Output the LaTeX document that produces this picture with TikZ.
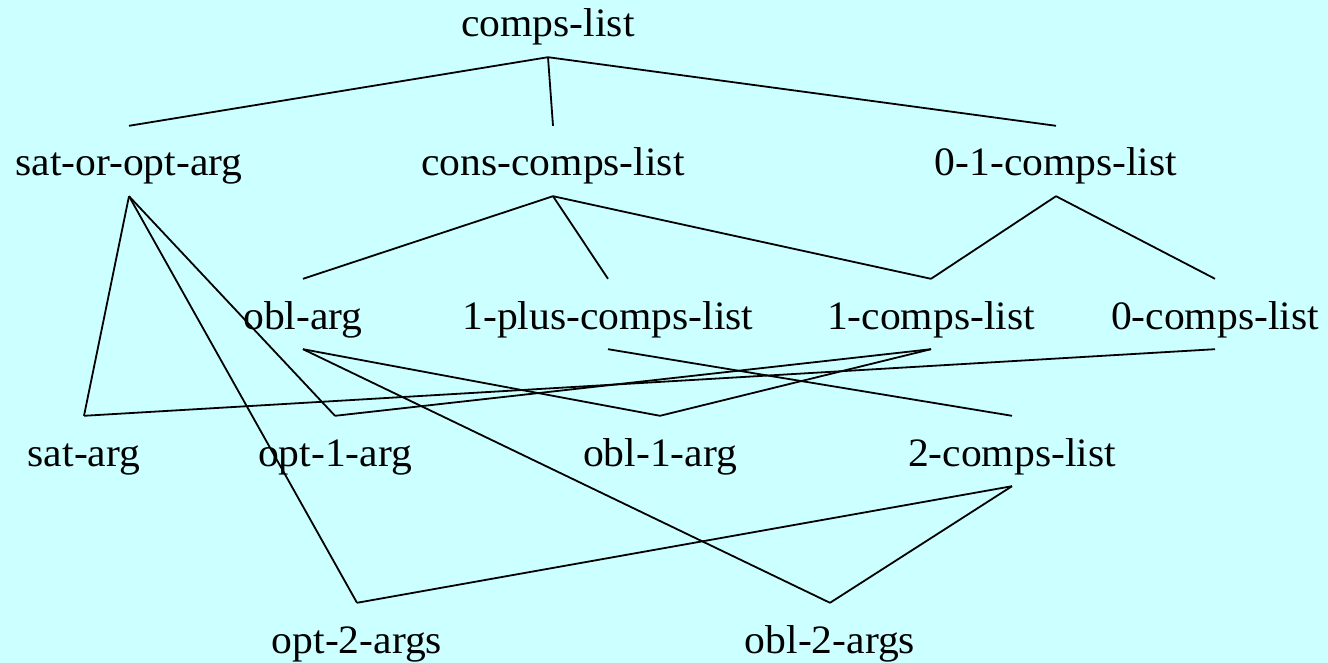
\documentclass[tikz,border=0pt]{standalone}
\usepackage{fontspec}
\setmainfont{Liberation Serif}
\definecolor{bgcyan}{RGB}{204,255,255}
\newcommand{\typelabel}[1]{\scalebox{0.99}[0.96]{#1}}
\begin{document}
\begin{tikzpicture}[x=1pt,y=-1pt,
  type/.style={anchor=base, inner xsep=0pt, inner ysep=0pt,
    text height=50pt, text depth=20pt,
    font=\fontsize{42}{50}\selectfont},
  link/.style={draw=black, line width=1.8pt}]
  % canvas
  \fill[bgcyan] (0,0) rectangle (1328,663);
  \useasboundingbox (0,0) rectangle (1328,663);

  % row 1
  \node[type] (cl)    at (548,37)  {\typelabel{comps-list}};
  % row 2
  \node[type] (soa)   at (129,176) {\typelabel{sat-or-opt-arg}};
  \node[type] (ccl)   at (553,176) {\typelabel{cons-comps-list}};
  \node[type] (zocl)  at (1056,176) {\typelabel{0-1-comps-list}};
  % row 3
  \node[type] (obl)   at (303,329) {\typelabel{obl-arg}};
  \node[type] (opcl)  at (608,329) {\typelabel{1-plus-comps-list}};
  \node[type] (ocl)   at (931,329) {\typelabel{1-comps-list}};
  \node[type] (zcl)   at (1215,329) {\typelabel{0-comps-list}};
  % row 4
  \node[type] (sat)   at (84,466)  {\typelabel{sat-arg}};
  \node[type] (o1a)   at (335,466) {\typelabel{opt-1-arg}};
  \node[type] (b1a)   at (660,466) {\typelabel{obl-1-arg}};
  \node[type] (tcl)   at (1012,466) {\typelabel{2-comps-list}};
  % row 5
  \node[type] (o2a)   at (357,653) {\typelabel{opt-2-args}};
  \node[type] (b2a)   at (830,653) {\typelabel{obl-2-args}};

  % subtype links
  \draw[link] (cl.south) -- (soa.north);
  \draw[link] (cl.south) -- (ccl.north);
  \draw[link] (cl.south) -- (zocl.north);

  \draw[link] (ccl.south) -- (obl.north);
  \draw[link] (ccl.south) -- (opcl.north);
  \draw[link] (ccl.south) -- (ocl.north);
  \draw[link] (zocl.south) -- (ocl.north);
  \draw[link] (zocl.south) -- (zcl.north);

  \draw[link] (soa.south) -- (sat.north);
  \draw[link] (soa.south) -- (o1a.north);
  \draw[link] (soa.south) -- (o2a.north);

  \draw[link] (obl.south) -- (b1a.north);
  \draw[link] (obl.south) -- (b2a.north);
  \draw[link] (opcl.south) -- (tcl.north);
  \draw[link] (ocl.south) -- (o1a.north);
  \draw[link] (ocl.south) -- (b1a.north);
  \draw[link] (zcl.south) -- (sat.north);

  \draw[link] (tcl.south) -- (o2a.north);
  \draw[link] (tcl.south) -- (b2a.north);
\end{tikzpicture}
\end{document}
